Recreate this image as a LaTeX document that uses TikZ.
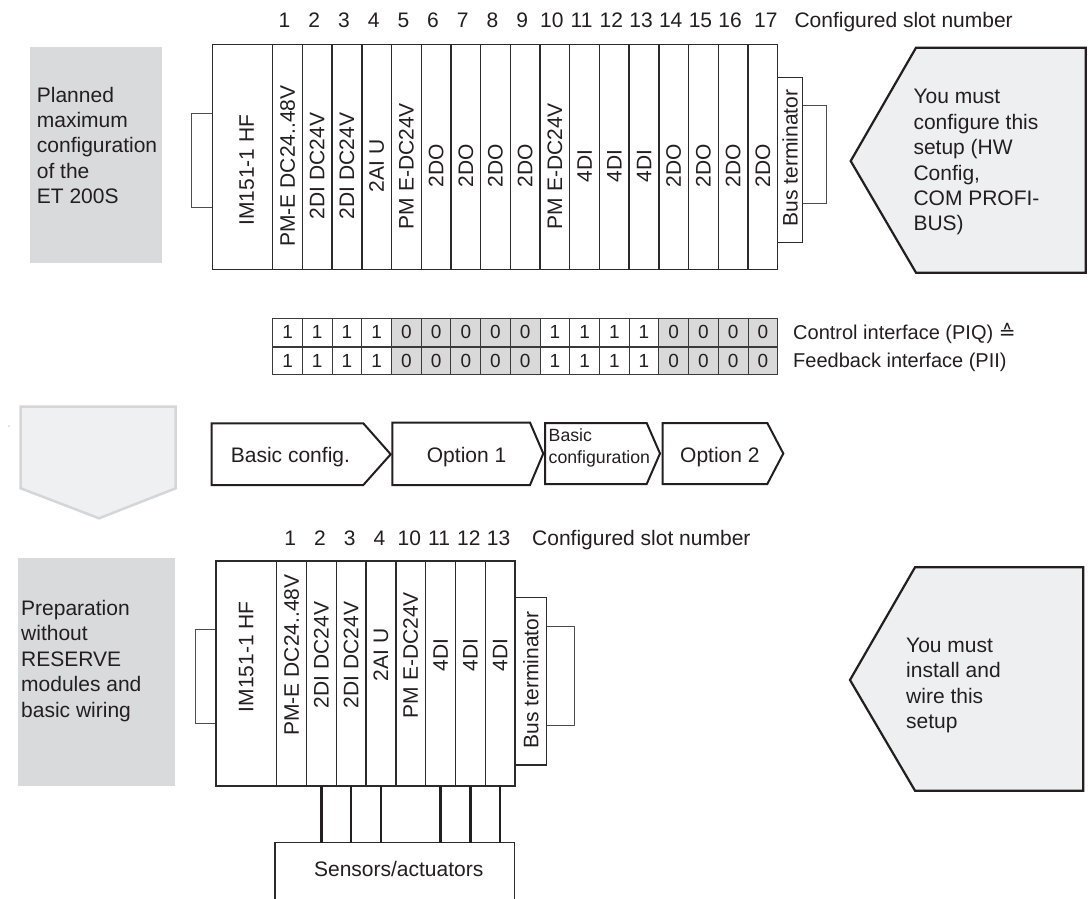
\documentclass[tikz,border=0pt]{standalone}
\usepackage{fontspec}
\setmainfont{Liberation Sans}
\newfontfamily\dejavu{DejaVu Sans}
\definecolor{txt}{HTML}{231F20}
\definecolor{boxgray}{HTML}{D9DADC}
\definecolor{pentfill}{HTML}{EEEFF1}
\definecolor{cellgray}{HTML}{D9D9D9}
\definecolor{linecol}{HTML}{2B2B2B}
\definecolor{conncol}{HTML}{4D4D4D}
\definecolor{gridcol}{HTML}{3A3A3A}
\definecolor{faintfill}{HTML}{EFF0F2}
\definecolor{faintline}{HTML}{D5D6D8}
\begin{document}
\begin{tikzpicture}[x=1pt,y=-1pt,
  font=\fontsize{21}{25.4}\selectfont, text=txt,
  mod/.style={draw=linecol, line width=1.4pt, fill=white, inner sep=0pt, outer sep=0pt, anchor=north west},
  conn/.style={draw=conncol, line width=1pt, fill=white, inner sep=0pt, outer sep=0pt, anchor=north west},
  rotlbl/.style={rotate=90, inner sep=0pt},
  numlbl/.style={inner sep=0pt, anchor=base},
  txtlbl/.style={inner sep=0pt, anchor=base west},
  para/.style={inner sep=0pt, anchor=north west, align=left},
  graybox/.style={fill=boxgray, draw=none, inner sep=0pt, outer sep=0pt, anchor=north west},
  pent/.style={fill=pentfill, draw=txt, line width=2.2pt, line join=miter},
  chevbox/.style={draw=txt, line width=2pt, fill=white, line join=miter},
  wire/.style={draw=txt, line width=2.4pt},
  cell/.style={draw=gridcol, line width=1pt, minimum width=29.706pt, minimum height=28.2pt, inner sep=0pt, outer sep=0pt, anchor=north west, font=\fontsize{19}{22}\selectfont},
]
\fill[white] (0,0) rectangle (1088,899);
\useasboundingbox (0,0) rectangle (1088,899);

% ---------------- top section ----------------
\node[graybox, minimum width=131.7pt, minimum height=215.8pt] (gT) at (30,47.5) {};
\node[para] (gTtxt) at (36.7,86.7) {Planned\\maximum\\configuration\\of the\\ET 200S};

\node[conn, minimum width=21.3pt, minimum height=94pt] (cT1) at (191,113.3) {};
\node[conn, minimum width=24pt, minimum height=97.3pt] (cT2) at (802.3,106) {};
\node[mod, minimum width=60.4pt, minimum height=224.8pt] (imT) at (212.3,44.5) {};
\node[rotlbl] (imTl) at (246.7,170) {IM151-1 HF};

\foreach \i/\t in {1/PM-E DC24..48V,2/2DI DC24V,3/2DI DC24V,4/2AI U,5/PM E-DC24V,6/2DO,7/2DO,8/2DO,9/2DO,10/PM E-DC24V,11/4DI,12/4DI,13/4DI,14/2DO,15/2DO,16/2DO,17/2DO} {
  \node[mod, minimum width=29.706pt, minimum height=224.8pt] (mT\i) at ({272.7+(\i-1)*29.706},44.5) {};
  \node[rotlbl] (lT\i) at (mT\i.center |- 0,166) {\t};
}
\node[mod, minimum width=24.6pt, minimum height=165.4pt] (btT) at (777.7,77.3) {};
\node[rotlbl] (btTl) at (btT.center |- 0,158) {Bus terminator};

\foreach \i in {1,...,16} {
  \node[numlbl] (sT\i) at ({272.7+(\i-0.5)*29.706-3},27.3) {\i};
}
\node[numlbl] (sT17) at ({272.7+16.5*29.706+3},27.3) {17};
\node[txtlbl] (slotT) at (794.3,27.3) {Configured slot number};

\draw[pent] (916,47.7) -- (1085.7,47.7) -- (1085.7,272.7) -- (916,272.7) -- (850.7,161) -- cycle;
\node[para] (pTtxt) at (913.3,89.3) {You must\\configure this\\setup (HW\\Config,\\COM PROFI-\\BUS)};

% ---------------- interface grid ----------------
\foreach \i/\d/\c in {1/1/white,2/1/white,3/1/white,4/1/white,5/0/cellgray,6/0/cellgray,7/0/cellgray,8/0/cellgray,9/0/cellgray,10/1/white,11/1/white,12/1/white,13/1/white,14/0/cellgray,15/0/cellgray,16/0/cellgray,17/0/cellgray} {
  \node[cell, fill=\c] (q\i) at ({272.7+(\i-1)*29.706},318.3) {\d};
  \node[cell, fill=\c] (f\i) at ({272.7+(\i-1)*29.706},346.5) {\d};
}
\draw[draw=gridcol, line width=2pt] (q1.south west) -- (q17.south east);
\node[txtlbl, font=\fontsize{20}{24}\selectfont] (piq) at (793,339.6) {Control interface (PIQ) {\dejavu ≙}};
\node[txtlbl, font=\fontsize{20}{24}\selectfont] (pii) at (793,367.8) {Feedback interface (PII)};

% ---------------- middle row ----------------
\fill[faintline] (9,426) circle (1pt);
\draw[fill=faintfill, draw=faintline, line width=2.5pt, line join=miter] (20.7,406.7) -- (175.7,406.7) -- (175.7,488.3) -- (99,518.3) -- (20.7,488.3) -- cycle;

\draw[chevbox] (211.7,423.3) -- (363.3,423.3) -- (390.7,454.3) -- (363.3,485) -- (211.7,485) -- cycle;
\node[txtlbl] (ch1) at (230.7,462.3) {Basic config.};
\draw[chevbox] (392.3,422.5) -- (530,422.5) -- (543.3,453.5) -- (530,485) -- (392.3,485) -- cycle;
\node[txtlbl] (ch2) at (426.7,462.3) {Option 1};
\draw[chevbox] (545,423) -- (646.7,423) -- (660,453.5) -- (646.7,484) -- (545,484) -- cycle;
\node[para, font=\fontsize{17.7}{21.6}\selectfont] (ch3) at (548.5,428.9) {Basic\\configuration};
\draw[chevbox] (662.7,423) -- (767.3,423) -- (783.3,453.5) -- (767.3,484) -- (662.7,484) -- cycle;
\node[txtlbl] (ch4) at (680,462.3) {Option 2};

% ---------------- bottom section ----------------
\node[graybox, minimum width=156.7pt, minimum height=227.7pt] (gB) at (18.3,558.3) {};
\node[para] (gBtxt) at (21,600) {Preparation\\without\\RESERVE\\modules and\\basic wiring};

\node[conn, minimum width=21pt, minimum height=94pt] (cB1) at (195,629.3) {};
\node[conn, minimum width=27.3pt, minimum height=99.7pt] (cB2) at (546.7,626) {};
\node[mod, minimum width=60.7pt, minimum height=225pt] (imB) at (216,561) {};
\node[rotlbl] (imBl) at (imB.center |- 0,656.7) {IM151-1 HF};

\foreach \i/\t in {1/PM-E DC24..48V,2/2DI DC24V,3/2DI DC24V,4/2AI U,5/PM E-DC24V,6/4DI,7/4DI,8/4DI} {
  \node[mod, minimum width=29.79pt, minimum height=225pt] (mB\i) at ({276.7+(\i-1)*29.79},561) {};
  \node[rotlbl] (lB\i) at (mB\i.center |- 0,655) {\t};
}
\node[mod, minimum width=31.7pt, minimum height=167.7pt] (btB) at (515,597.3) {};
\node[rotlbl] (btBl) at (btB.center |- 0,680) {Bus terminator};

\foreach \i/\n in {1/1,2/2,3/3,4/4,5/10,6/11,7/12,8/13} {
  \node[numlbl] (sB\i) at ({276.7+(\i-0.5)*29.79-1.5},545) {\n};
}
\node[txtlbl] (slotB) at (532,545) {Configured slot number};

\node[inner sep=0pt, outer sep=0pt, minimum width=239.3pt, minimum height=57pt, anchor=north west] (sens) at (275,842.7) {};
\draw[draw=linecol, line width=1.2pt] (sens.south west) -- (sens.north west) -- (sens.north east) -- (sens.south east);
\node[numlbl] (sensl) at (398.7,876) {Sensors/actuators};
\foreach \i in {2,3,4,6,7,8} {
  \draw[wire] (mB\i.south) -- (mB\i.south |- sens.north);
}

\draw[pent] (915,567.3) -- (1083.3,567.3) -- (1083.3,790.7) -- (915,790.7) -- (850,680) -- cycle;
\node[para] (pBtxt) at (906,637.7) {You must\\install and\\wire this\\setup};
\end{tikzpicture}
\end{document}
